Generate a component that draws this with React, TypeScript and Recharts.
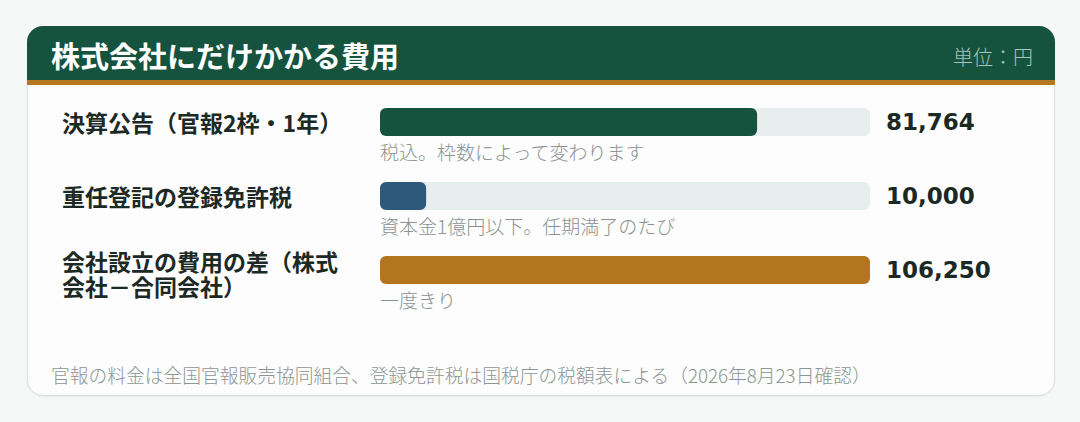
import { BarChart, Bar, XAxis, YAxis, Cell, LabelList } from "recharts"

const categories = [
  "決算公告（官報2枠・1年）",
  "重任登記の登録免許税",
  "会社設立の費用の差（株式会社－合同会社）",
]
const amounts = [81764, 10000, 106250]
const notes = [
  "税込。枠数によって変わります",
  "資本金1億円以下。任期満了のたび",
  "一度きり",
]
const barColors = ["#15533f", "#2d5a7a", "#b3761e"]
const axisMax = 106250

const title = "株式会社にだけかかる費用"
const unitLabel = "単位：円"
const footnote =
  "官報の料金は全国官報販売協同組合、登録免許税は国税庁の税額表による（2026年8月23日確認）"

const rows = categories.map((name, i) => ({
  name,
  amount: amounts[i],
  note: notes[i],
  display: amounts[i].toLocaleString("en-US"),
}))

const jp = '"Noto Sans CJK JP", "Noto Sans", sans-serif'

// rough width in em: ascii is about half width
function wrapLabel(s: string, maxUnits: number) {
  const lines: string[] = []
  let cur = ""
  let w = 0
  for (const ch of s) {
    const cw = /[\x00-\x7f]/.test(ch) ? 0.55 : 1
    if (w + cw > maxUnits && cur) {
      lines.push(cur)
      cur = ""
      w = 0
    }
    cur += ch
    w += cw
  }
  if (cur) lines.push(cur)
  return lines
}

function LabelTick(props: any) {
  const { y, payload } = props
  const lines = wrapLabel(String(payload.value), 12.5)
  const step = 25
  const start = Number(y) - ((lines.length - 1) * step) / 2 + (lines.length > 1 ? 3 : 0)
  return (
    <text
      x={62}
      y={start}
      fill="#1d2925"
      fontFamily={jp}
      fontWeight={700}
      fontSize={23}
      dominantBaseline="central"
    >
      {lines.map((l, i) => (
        <tspan key={i} x={62} y={start + i * step}>
          {l}
        </tspan>
      ))}
    </text>
  )
}

function ValueTick(props: any) {
  const { x, y, payload } = props
  return (
    <text
      x={Number(x)}
      y={Number(y)}
      fill="#1b2925"
      fontFamily='"DejaVu Sans", sans-serif'
      fontWeight={700}
      fontSize={23}
      textAnchor="start"
      dominantBaseline="central"
    >
      {payload.value}
    </text>
  )
}

function NoteLabel(props: any) {
  const { x, y, height, value } = props
  return (
    <text
      x={Number(x)}
      y={Number(y) + Number(height) + 15}
      fill="#8a9391"
      fontFamily={jp}
      fontWeight={300}
      fontSize={19}
      dominantBaseline="central"
    >
      {value}
    </text>
  )
}

export default function App() {
  return (
    <div
      style={{
        position: "absolute",
        left: 0,
        top: 0,
        width: 1080,
        height: 422,
        background: "#f6f8f7",
        overflow: "hidden",
        fontFamily: jp,
      }}
    >
      <div
        style={{
          position: "absolute",
          left: 27,
          top: 26,
          width: 1028,
          height: 370,
          boxSizing: "border-box",
          border: "1.5px solid #d9e2e1",
          borderRadius: 16,
          background: "#fcfdfc",
          boxShadow: "0 1px 2px rgba(0,0,0,0.05)",
        }}
      />
      <div
        style={{
          position: "absolute",
          left: 27,
          top: 26,
          width: 1028,
          height: 59,
          boxSizing: "border-box",
          background: "#15533f",
          borderBottom: "5px solid #b5781f",
          borderRadius: "16px 16px 0 0",
        }}
      >
        <div
          style={{
            position: "absolute",
            left: 24,
            top: 29,
            transform: "translateY(-50%)",
            color: "#ffffff",
            fontSize: 29,
            fontWeight: 700,
            lineHeight: 1,
            whiteSpace: "nowrap",
          }}
        >
          {title}
        </div>
        <div
          style={{
            position: "absolute",
            right: 22,
            top: 31,
            transform: "translateY(-50%)",
            color: "#a9c4b8",
            fontSize: 20,
            fontWeight: 300,
            lineHeight: 1,
            whiteSpace: "nowrap",
          }}
        >
          {unitLabel}
        </div>
      </div>
      <div style={{ position: "absolute", left: 0, top: 0 }}>
        <BarChart
          width={1080}
          height={422}
          layout="vertical"
          data={rows}
          margin={{ top: 85, bottom: 115, left: 50, right: 10 }}
        >
          <XAxis type="number" domain={[0, axisMax]} hide />
          <YAxis
            type="category"
            dataKey="name"
            width={330}
            axisLine={false}
            tickLine={false}
            interval={0}
            tick={LabelTick}
          />
          <YAxis
            yAxisId="val"
            orientation="right"
            type="category"
            dataKey="display"
            width={200}
            axisLine={false}
            tickLine={false}
            tickMargin={10}
            interval={0}
            tick={ValueTick}
          />
          <Bar
            dataKey="amount"
            barSize={28}
            radius={6}
            background={{ fill: "#e8eded", radius: 6 }}
            isAnimationActive={false}
          >
            {rows.map((r, i) => (
              <Cell key={r.name} fill={barColors[i]} />
            ))}
            <LabelList dataKey="note" content={NoteLabel} />
          </Bar>
        </BarChart>
      </div>
      <div
        style={{
          position: "absolute",
          left: 51,
          top: 375,
          transform: "translateY(-50%)",
          color: "#8c9693",
          fontSize: 18.75,
          fontWeight: 300,
          lineHeight: 1,
          whiteSpace: "nowrap",
        }}
      >
        {footnote}
      </div>
    </div>
  )
}
